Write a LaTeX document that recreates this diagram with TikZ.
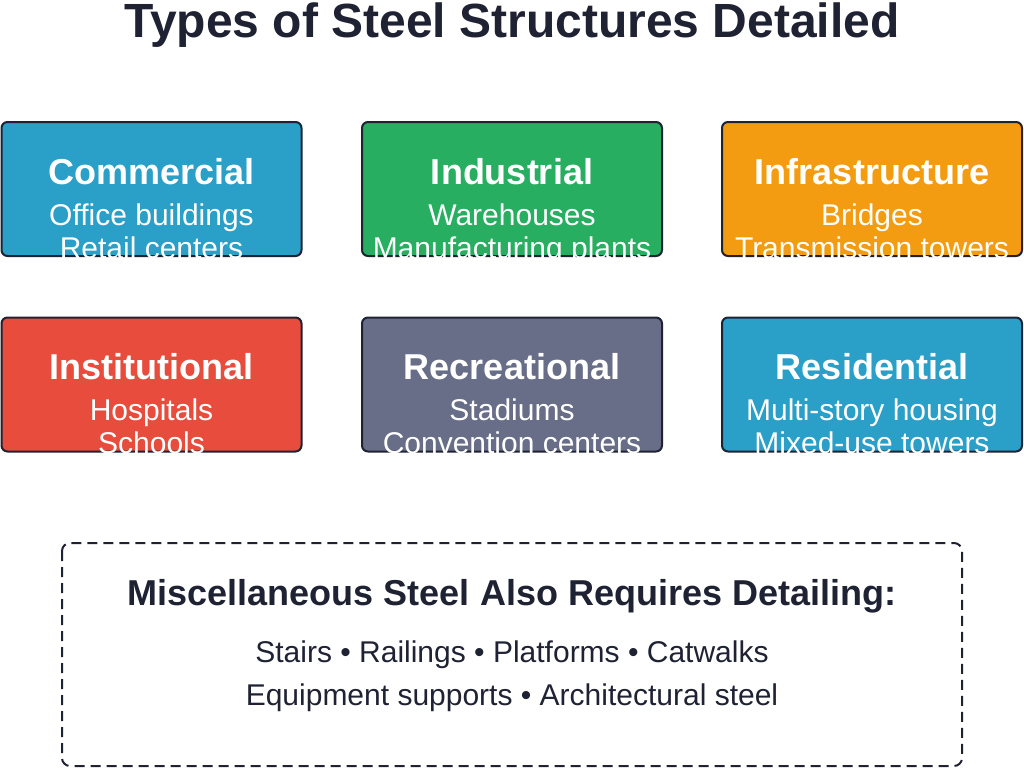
\documentclass[tikz,border=0pt]{standalone}
\usepackage{fontspec}
\setmainfont{Liberation Sans}
\usepackage{tikz}
\usetikzlibrary{positioning}
\usepackage{xcolor}
\definecolor{ink}{HTML}{1E2233}
\definecolor{commercial}{HTML}{2A9FC7}
\definecolor{industrial}{HTML}{27AE60}
\definecolor{infra}{HTML}{F39C12}
\definecolor{institutional}{HTML}{E74C3C}
\definecolor{recreational}{HTML}{686E88}
\definecolor{residential}{HTML}{2A9FC7}

\tikzset{
  catbox/.style={draw=ink, line width=2pt, rounded corners=6pt,
    minimum width=300pt, minimum height=134pt, inner sep=0pt},
  cathead/.style={anchor=base, text=white, inner sep=0pt,
    font=\bfseries\fontsize{36}{42}\selectfont},
  catitem/.style={anchor=base, text=white, inner sep=0pt,
    font=\fontsize{30}{36}\selectfont},
  misctext/.style={anchor=base, text=ink, inner sep=0pt,
    font=\fontsize{30}{36}\selectfont},
}

\begin{document}
\begin{tikzpicture}[x=1pt, y=-1pt]
    \useasboundingbox (0,0) rectangle (1024,769);

    % Title
    \node[anchor=base, text=ink, font=\bfseries\fontsize{48}{56}\selectfont] (title) at (512,37) {Types of Steel Structures Detailed};

    % First row of categories
    \node[catbox, fill=commercial] (commercial) at (151.5,189) {};
    \node[cathead] (commercialT) at (151.5,184) {Commercial};
    \node[catitem] (commercialA) at (151.5,225) {Office buildings};
    \node[catitem] (commercialB) at (151.5,258) {Retail centers};

    \node[catbox, fill=industrial] (industrial) at (512,189) {};
    \node[cathead] (industrialT) at (512,184) {Industrial};
    \node[catitem] (industrialA) at (512,225) {Warehouses};
    \node[catitem] (industrialB) at (512,258) {Manufacturing plants};

    \node[catbox, fill=infra] (infra) at (872,189) {};
    \node[cathead] (infraT) at (872,184) {Infrastructure};
    \node[catitem] (infraA) at (872,225) {Bridges};
    \node[catitem] (infraB) at (872,258) {Transmission towers};

    % Second row of categories
    \node[catbox, fill=institutional] (institutional) at (151.5,384.5) {};
    \node[cathead] (institutionalT) at (151.5,379) {Institutional};
    \node[catitem] (institutionalA) at (151.5,420) {Hospitals};
    \node[catitem] (institutionalB) at (151.5,453) {Schools};

    \node[catbox, fill=recreational] (recreational) at (512,384.5) {};
    \node[cathead] (recreationalT) at (512,379) {Recreational};
    \node[catitem] (recreationalA) at (512,420) {Stadiums};
    \node[catitem] (recreationalB) at (512,453) {Convention centers};

    \node[catbox, fill=residential] (residential) at (872,384.5) {};
    \node[cathead] (residentialT) at (872,379) {Residential};
    \node[catitem] (residentialA) at (872,420) {Multi-story housing};
    \node[catitem] (residentialB) at (872,453) {Mixed-use towers};

    % Miscellaneous steel
    \draw[ink, line width=2pt, rounded corners=8pt, dash pattern=on 10pt off 6pt] (62,543) rectangle (962,766);
    \node[misctext, font=\bfseries\fontsize{36}{42}\selectfont] (misc) at (512,605) {Miscellaneous Steel Also Requires Detailing:};
    \node[misctext] (miscA) at (512,662) {Stairs • Railings • Platforms • Catwalks};
    \node[misctext] (miscB) at (512,705) {Equipment supports • Architectural steel};
\end{tikzpicture}
\end{document}
